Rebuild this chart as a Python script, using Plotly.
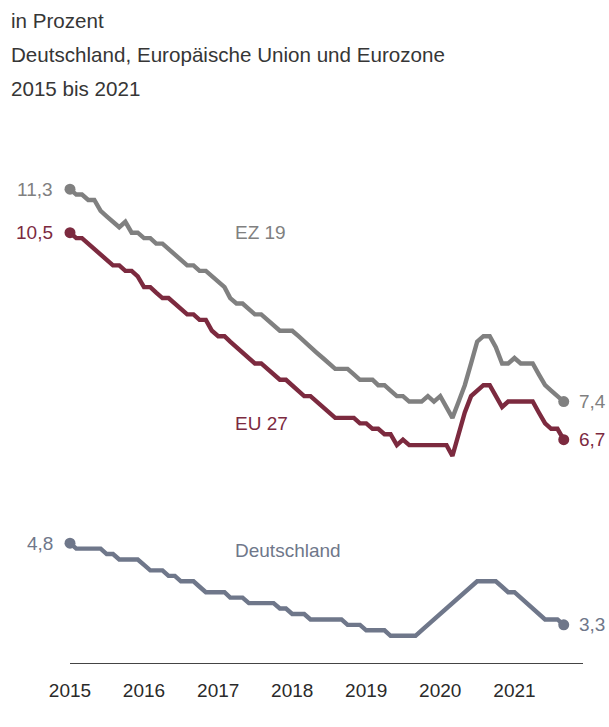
import pandas as pd
import plotly.graph_objects as go

# ---- data (monthly, Jan 2015 - Sep 2021), unemployment rate in percent ----
months = pd.date_range("2015-01-01", periods=81, freq="MS")

ez19 = [11.3, 11.2, 11.2, 11.1, 11.1, 10.9, 10.8, 10.7, 10.6, 10.7, 10.5, 10.5,
        10.4, 10.4, 10.3, 10.3, 10.2, 10.1, 10.0, 9.9, 9.9, 9.8, 9.8, 9.7,
        9.6, 9.5, 9.3, 9.2, 9.2, 9.1, 9.0, 9.0, 8.9, 8.8, 8.7, 8.7,
        8.7, 8.6, 8.5, 8.4, 8.3, 8.2, 8.1, 8.0, 8.0, 8.0, 7.9, 7.8,
        7.8, 7.8, 7.7, 7.7, 7.6, 7.5, 7.5, 7.4, 7.4, 7.4, 7.5, 7.4,
        7.5, 7.3, 7.1, 7.4, 7.7, 8.1, 8.5, 8.6, 8.6, 8.4, 8.1, 8.1,
        8.2, 8.1, 8.1, 8.1, 7.9, 7.7, 7.6, 7.5, 7.4]

eu27 = [10.5, 10.4, 10.4, 10.3, 10.2, 10.1, 10.0, 9.9, 9.9, 9.8, 9.8, 9.7,
        9.5, 9.5, 9.4, 9.3, 9.3, 9.2, 9.1, 9.0, 9.0, 8.9, 8.9, 8.7,
        8.6, 8.6, 8.5, 8.4, 8.3, 8.2, 8.1, 8.1, 8.0, 7.9, 7.8, 7.8,
        7.7, 7.6, 7.5, 7.5, 7.4, 7.3, 7.2, 7.1, 7.1, 7.1, 7.1, 7.0,
        7.0, 6.9, 6.9, 6.8, 6.8, 6.6, 6.7, 6.6, 6.6, 6.6, 6.6, 6.6,
        6.6, 6.6, 6.4, 6.8, 7.2, 7.5, 7.6, 7.7, 7.7, 7.5, 7.3, 7.4,
        7.4, 7.4, 7.4, 7.4, 7.2, 7.0, 6.9, 6.9, 6.7]

deutschland = [4.8, 4.7, 4.7, 4.7, 4.7, 4.7, 4.6, 4.6, 4.5, 4.5, 4.5, 4.5,
               4.4, 4.3, 4.3, 4.3, 4.2, 4.2, 4.1, 4.1, 4.1, 4.0, 3.9, 3.9,
               3.9, 3.9, 3.8, 3.8, 3.8, 3.7, 3.7, 3.7, 3.7, 3.7, 3.6, 3.6,
               3.5, 3.5, 3.5, 3.4, 3.4, 3.4, 3.4, 3.4, 3.4, 3.3, 3.3, 3.3,
               3.2, 3.2, 3.2, 3.2, 3.1, 3.1, 3.1, 3.1, 3.1, 3.2, 3.3, 3.4,
               3.5, 3.6, 3.7, 3.8, 3.9, 4.0, 4.1, 4.1, 4.1, 4.1, 4.0, 3.9,
               3.9, 3.8, 3.7, 3.6, 3.5, 3.4, 3.4, 3.4, 3.3]

years = ["2015", "2016", "2017", "2018", "2019", "2020", "2021"]

series = [
    # name, values, colour, label x (date), label y
    ("EZ 19", ez19, "#808080", "2017-03-15", 10.5),
    ("EU 27", eu27, "#7c2a3f", "2017-03-15", 7.0),
    ("Deutschland", deutschland, "#6f778a", "2017-03-15", 4.67),
]

FONT = "Arial, Liberation Sans, sans-serif"

fig = go.Figure()
annotations = []

for name, vals, col, lx, ly in series:
    fig.add_trace(go.Scatter(
        x=months, y=vals, mode="lines",
        line=dict(color=col, width=4.4, shape="linear"),
        cliponaxis=False, hoverinfo="skip", showlegend=False))
    fig.add_trace(go.Scatter(
        x=[months[0], months[-1]], y=[vals[0], vals[-1]], mode="markers",
        marker=dict(color=col, size=11),
        cliponaxis=False, hoverinfo="skip", showlegend=False))
    # start value label
    annotations.append(dict(
        x=months[0], y=vals[0], xref="x", yref="y",
        text=f"{vals[0]:.1f}".replace(".", ","), showarrow=False,
        xanchor="right", yanchor="middle", xshift=-15,
        font=dict(family=FONT, size=19, color=col)))
    # end value label
    annotations.append(dict(
        x=months[-1], y=vals[-1], xref="x", yref="y",
        text=f"{vals[-1]:.1f}".replace(".", ","), showarrow=False,
        xanchor="left", yanchor="middle", xshift=13,
        font=dict(family=FONT, size=19, color=col)))
    # series name label
    annotations.append(dict(
        x=lx, y=ly, xref="x", yref="y", text=name, showarrow=False,
        xanchor="left", yanchor="middle",
        font=dict(family=FONT, size=19, color=col)))

# header lines
header = ["in Prozent", "Deutschland, Europäische Union und Eurozone", "2015 bis 2021"]
PLOT_TOP, PLOT_H = 151, 512
for i, line in enumerate(header):
    ypx = 20 + i * 34
    annotations.append(dict(
        x=-70 / 513, y=(PLOT_TOP + PLOT_H - ypx) / PLOT_H,
        xref="paper", yref="paper", text=line, showarrow=False,
        xanchor="left", yanchor="middle", xshift=9,
        font=dict(family=FONT, size=20.6, color="#363636")))

fig.update_layout(
    width=609, height=727,
    margin=dict(l=70, r=26, t=PLOT_TOP, b=727 - PLOT_TOP - PLOT_H, pad=0),
    paper_bgcolor="white", plot_bgcolor="white",
    annotations=annotations,
    xaxis=dict(
        range=["2015-01-01", "2021-12-05"],
        tickvals=[f"{y}-01-01" for y in years], ticktext=years,
        showgrid=False, zeroline=False, showline=True,
        linecolor="#444444", linewidth=1.3, ticks="",
        ticklabelstandoff=10,
        tickfont=dict(family=FONT, size=19, color="#2a2a2a")),
    yaxis=dict(
        range=[2.6, 12.0], visible=False, showgrid=False, zeroline=False),
)

fig.write_html(
    "out.html",
    config={"displayModeBar": False},
    post_script="document.body.style.margin='0';document.body.style.overflow='hidden';",
)
